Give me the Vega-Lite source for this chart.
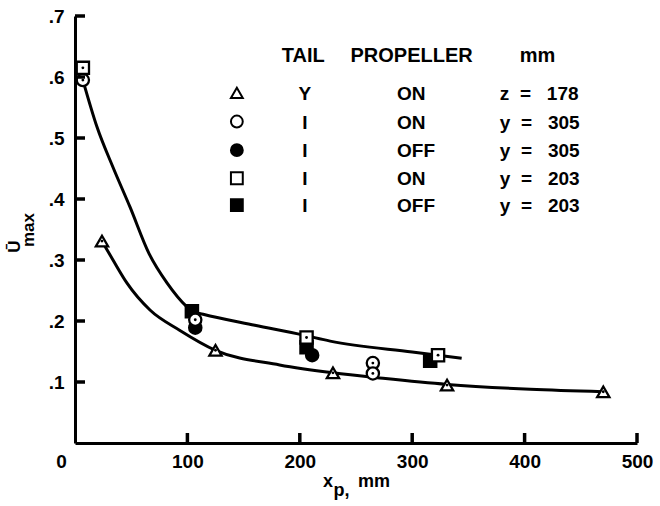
{
  "$schema": "https://vega.github.io/schema/vega-lite/v6.json",
  "autosize": {"type": "none"},
  "width": 562,
  "height": 427,
  "padding": {"left": 75, "top": 16, "right": 23, "bottom": 63},
  "background": "white",
  "datasets": {
    "pts": [
      {"series": "I OFF y=305", "x": 107, "y": 0.189},
      {"series": "I OFF y=305", "x": 211, "y": 0.144},
      {"series": "I OFF y=203", "x": 104, "y": 0.216},
      {"series": "I OFF y=203", "x": 206, "y": 0.157},
      {"series": "I OFF y=203", "x": 316, "y": 0.135},
      {"series": "I ON y=305", "x": 7, "y": 0.595},
      {"series": "I ON y=305", "x": 107, "y": 0.202},
      {"series": "I ON y=305", "x": 265, "y": 0.131},
      {"series": "I ON y=305", "x": 265, "y": 0.114},
      {"series": "I ON y=203", "x": 7, "y": 0.615},
      {"series": "I ON y=203", "x": 206, "y": 0.173},
      {"series": "I ON y=203", "x": 323, "y": 0.144},
      {"series": "Y ON z=178", "x": 24, "y": 0.331},
      {"series": "Y ON z=178", "x": 125, "y": 0.152},
      {"series": "Y ON z=178", "x": 229.5, "y": 0.115},
      {"series": "Y ON z=178", "x": 331, "y": 0.095},
      {"series": "Y ON z=178", "x": 470, "y": 0.084}
    ],
    "curves": [
      {"curve": "upper", "x": 7, "y": 0.595},
      {"curve": "upper", "x": 19.6, "y": 0.518},
      {"curve": "upper", "x": 33.8, "y": 0.452},
      {"curve": "upper", "x": 48.9, "y": 0.387},
      {"curve": "upper", "x": 66, "y": 0.31},
      {"curve": "upper", "x": 82, "y": 0.262},
      {"curve": "upper", "x": 99.6, "y": 0.223},
      {"curve": "upper", "x": 104, "y": 0.216},
      {"curve": "upper", "x": 114, "y": 0.211},
      {"curve": "upper", "x": 160, "y": 0.193},
      {"curve": "upper", "x": 203, "y": 0.177},
      {"curve": "upper", "x": 227, "y": 0.167},
      {"curve": "upper", "x": 300, "y": 0.149},
      {"curve": "upper", "x": 344, "y": 0.139},
      {"curve": "lower", "x": 24, "y": 0.331},
      {"curve": "lower", "x": 33.8, "y": 0.300},
      {"curve": "lower", "x": 46.3, "y": 0.262},
      {"curve": "lower", "x": 66.7, "y": 0.218},
      {"curve": "lower", "x": 93, "y": 0.185},
      {"curve": "lower", "x": 125, "y": 0.152},
      {"curve": "lower", "x": 182, "y": 0.128},
      {"curve": "lower", "x": 229.5, "y": 0.115},
      {"curve": "lower", "x": 274, "y": 0.106},
      {"curve": "lower", "x": 331, "y": 0.096},
      {"curve": "lower", "x": 405, "y": 0.088},
      {"curve": "lower", "x": 470, "y": 0.084}
    ],
    "xt": [{"x": 100, "y": 0}, {"x": 200, "y": 0}, {"x": 300, "y": 0}, {"x": 400, "y": 0}, {"x": 500, "y": 0}],
    "yt": [{"x": 0, "y": 0.1}, {"x": 0, "y": 0.2}, {"x": 0, "y": 0.3}, {"x": 0, "y": 0.4}, {"x": 0, "y": 0.5}, {"x": 0, "y": 0.6}, {"x": 0, "y": 0.7}],
    "leg": [
      {"series": "Y ON z=178", "x": 144, "y": 0.574},
      {"series": "I ON y=305", "x": 144, "y": 0.527},
      {"series": "I OFF y=305", "x": 144, "y": 0.480},
      {"series": "I ON y=203", "x": 144, "y": 0.434},
      {"series": "I OFF y=203", "x": 144, "y": 0.390}
    ],
    "legtxt": [
      {"col": "header", "x": 203, "y": 0.634, "label": "TAIL"},
      {"col": "header", "x": 299.5, "y": 0.634, "label": "PROPELLER"},
      {"col": "header", "x": 411.5, "y": 0.634, "label": "mm"},
      {"col": "tail", "x": 204.5, "y": 0.572, "label": "Y"},
      {"col": "tail", "x": 204.5, "y": 0.525, "label": "I"},
      {"col": "tail", "x": 204.5, "y": 0.478, "label": "I"},
      {"col": "tail", "x": 204.5, "y": 0.432, "label": "I"},
      {"col": "tail", "x": 204.5, "y": 0.388, "label": "I"},
      {"col": "prop", "x": 286.5, "y": 0.572, "label": "ON"},
      {"col": "prop", "x": 286.5, "y": 0.525, "label": "ON"},
      {"col": "prop", "x": 286.5, "y": 0.478, "label": "OFF"},
      {"col": "prop", "x": 286.5, "y": 0.432, "label": "ON"},
      {"col": "prop", "x": 286.5, "y": 0.388, "label": "OFF"},
      {"col": "mm", "x": 378, "y": 0.572, "label": "z\u00a0\u00a0=\u00a0\u00a0\u00a0178"},
      {"col": "mm", "x": 378, "y": 0.525, "label": "y\u00a0\u00a0=\u00a0\u00a0\u00a0305"},
      {"col": "mm", "x": 378, "y": 0.478, "label": "y\u00a0\u00a0=\u00a0\u00a0\u00a0305"},
      {"col": "mm", "x": 378, "y": 0.432, "label": "y\u00a0\u00a0=\u00a0\u00a0\u00a0203"},
      {"col": "mm", "x": 378, "y": 0.388, "label": "y\u00a0\u00a0=\u00a0\u00a0\u00a0203"}
    ]
  },
  "encoding": {
    "x": {
      "field": "x", "type": "quantitative",
      "scale": {"domain": [0, 500], "nice": false, "zero": false},
      "axis": {
        "title": ["x\u00a0\u00a0\u00a0\u00a0\u00a0mm", "p,\u00a0\u00a0\u00a0\u00a0\u00a0\u00a0\u200b"],
        "titleLineHeight": 9,
        "values": [0, 100, 200, 300, 400, 500],
        "format": "d",
        "ticks": false,
        "labelPadding": 9,
        "labelOffset": {"condition": {"test": "datum.value === 0", "value": -14}, "value": 0},
        "titlePadding": 1
      }
    },
    "y": {
      "field": "y", "type": "quantitative",
      "scale": {"domain": [0, 0.7], "nice": false, "zero": false},
      "axis": {
        "title": ["Ū\u00a0\u00a0\u00a0\u00a0\u00a0\u00a0\u00a0\u200b", "\u00a0\u00a0\u00a0\u00a0max"],
        "titleFontSize": 17,
        "titleLineHeight": 14,
        "values": [0.1, 0.2, 0.3, 0.4, 0.5, 0.6, 0.7],
        "labelExpr": "replace(format(datum.value, '.1f'), '0.', '.')",
        "ticks": false,
        "labelPadding": 11,
        "titlePadding": 11
      }
    }
  },
  "layer": [
    {
      "data": {"name": "curves"},
      "mark": {"type": "line", "color": "black", "strokeWidth": 3, "interpolate": "monotone"},
      "encoding": {"detail": {"field": "curve"}}
    },
    {
      "data": {"name": "pts"},
      "mark": {"type": "point", "filled": true, "stroke": "black", "strokeWidth": 2.3, "size": 150, "opacity": 1},
      "encoding": {
        "shape": {"field": "series", "type": "nominal", "legend": null,
          "scale": {"domain": ["Y ON z=178", "I ON y=305", "I OFF y=305", "I ON y=203", "I OFF y=203"],
                    "range": ["triangle-up", "circle", "circle", "square", "square"]}},
        "fill": {"field": "series", "type": "nominal", "legend": null,
          "scale": {"domain": ["Y ON z=178", "I ON y=305", "I OFF y=305", "I ON y=203", "I OFF y=203"],
                    "range": ["white", "white", "black", "white", "black"]}}
      }
    },
    {
      "data": {"name": "pts"},
      "transform": [{"filter": "indexof(datum.series, ' ON ') >= 0"}],
      "mark": {"type": "point", "filled": true, "color": "black", "size": 8, "opacity": 1},
      "encoding": {}
    },
    {
      "data": {"name": "leg"},
      "mark": {"type": "point", "filled": true, "stroke": "black", "strokeWidth": 2, "size": 140, "opacity": 1},
      "encoding": {
        "shape": {"field": "series", "type": "nominal", "legend": null},
        "fill": {"field": "series", "type": "nominal", "legend": null}
      }
    },
    {
      "data": {"name": "legtxt"},
      "transform": [{"filter": "datum.col === 'header'"}],
      "mark": {"type": "text", "align": "center", "baseline": "middle", "font": "Liberation Sans", "fontWeight": "bold", "fontSize": 20, "color": "black"},
      "encoding": {"text": {"field": "label"}}
    },
    {
      "data": {"name": "legtxt"},
      "transform": [{"filter": "datum.col === 'tail'"}],
      "mark": {"type": "text", "align": "center", "baseline": "middle", "font": "Liberation Sans", "fontWeight": "bold", "fontSize": 19, "color": "black"},
      "encoding": {"text": {"field": "label"}}
    },
    {
      "data": {"name": "legtxt"},
      "transform": [{"filter": "datum.col === 'prop' || datum.col === 'mm'"}],
      "mark": {"type": "text", "align": "left", "baseline": "middle", "font": "Liberation Sans", "fontWeight": "bold", "fontSize": 19, "color": "black"},
      "encoding": {"text": {"field": "label"}}
    },
    {
      "data": {"name": "xt"},
      "mark": {"type": "point", "shape": "M0,0L0,-2", "size": 100, "filled": false, "stroke": "black", "strokeWidth": 3.5, "opacity": 1},
      "encoding": {}
    },
    {
      "data": {"name": "yt"},
      "mark": {"type": "point", "shape": "M0,0L2,0", "size": 100, "filled": false, "stroke": "black", "strokeWidth": 3.5, "opacity": 1},
      "encoding": {}
    }
  ],
  "config": {
    "view": {"stroke": null},
    "axis": {
      "grid": false,
      "domainColor": "black", "domainWidth": 3,
      "labelFont": "Liberation Sans", "labelFontSize": 19, "labelFontWeight": "bold", "labelColor": "black",
      "labelFlush": false, "labelOverlap": false,
      "titleFont": "Liberation Sans", "titleFontSize": 18, "titleFontWeight": "bold", "titleColor": "black"
    }
  }
}
